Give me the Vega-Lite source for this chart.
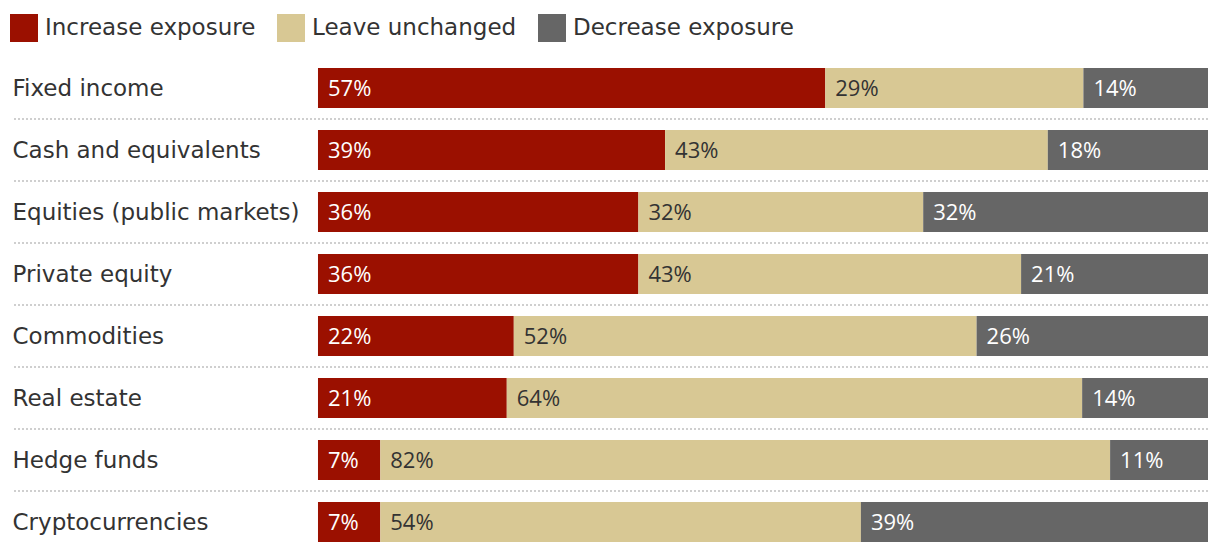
{
  "$schema": "https://vega.github.io/schema/vega-lite/v6.json",
  "width": 1196,
  "height": 496,
  "autosize": "none",
  "padding": {"left": 12, "top": 57, "right": 12, "bottom": 1},
  "config": {"view": {"stroke": null}, "font": "Open Sans"},
  "data": {"values": [
    {"category": "Fixed income", "response": "Increase exposure", "order": 1, "share": 0.57},
    {"category": "Fixed income", "response": "Leave unchanged", "order": 2, "share": 0.29},
    {"category": "Fixed income", "response": "Decrease exposure", "order": 3, "share": 0.14},
    {"category": "Cash and equivalents", "response": "Increase exposure", "order": 1, "share": 0.39},
    {"category": "Cash and equivalents", "response": "Leave unchanged", "order": 2, "share": 0.43},
    {"category": "Cash and equivalents", "response": "Decrease exposure", "order": 3, "share": 0.18},
    {"category": "Equities (public markets)", "response": "Increase exposure", "order": 1, "share": 0.36},
    {"category": "Equities (public markets)", "response": "Leave unchanged", "order": 2, "share": 0.32},
    {"category": "Equities (public markets)", "response": "Decrease exposure", "order": 3, "share": 0.32},
    {"category": "Private equity", "response": "Increase exposure", "order": 1, "share": 0.36},
    {"category": "Private equity", "response": "Leave unchanged", "order": 2, "share": 0.43},
    {"category": "Private equity", "response": "Decrease exposure", "order": 3, "share": 0.21},
    {"category": "Commodities", "response": "Increase exposure", "order": 1, "share": 0.22},
    {"category": "Commodities", "response": "Leave unchanged", "order": 2, "share": 0.52},
    {"category": "Commodities", "response": "Decrease exposure", "order": 3, "share": 0.26},
    {"category": "Real estate", "response": "Increase exposure", "order": 1, "share": 0.21},
    {"category": "Real estate", "response": "Leave unchanged", "order": 2, "share": 0.64},
    {"category": "Real estate", "response": "Decrease exposure", "order": 3, "share": 0.14},
    {"category": "Hedge funds", "response": "Increase exposure", "order": 1, "share": 0.07},
    {"category": "Hedge funds", "response": "Leave unchanged", "order": 2, "share": 0.82},
    {"category": "Hedge funds", "response": "Decrease exposure", "order": 3, "share": 0.11},
    {"category": "Cryptocurrencies", "response": "Increase exposure", "order": 1, "share": 0.07},
    {"category": "Cryptocurrencies", "response": "Leave unchanged", "order": 2, "share": 0.54},
    {"category": "Cryptocurrencies", "response": "Decrease exposure", "order": 3, "share": 0.39}
  ]},
  "transform": [
    {"stack": "share", "groupby": ["category"], "offset": "normalize", "sort": [{"field": "order"}], "as": ["s0", "s1"]}
  ],
  "encoding": {
    "y": {
      "field": "category", "type": "nominal",
      "sort": ["Fixed income", "Cash and equivalents", "Equities (public markets)", "Private equity", "Commodities", "Real estate", "Hedge funds", "Cryptocurrencies"],
      "scale": {"paddingInner": 0, "paddingOuter": 0},
      "axis": {"title": null, "domain": false, "ticks": false, "grid": false, "labelAlign": "left", "labelPadding": 0, "labelFontSize": 23, "labelColor": "#333333", "labelLimit": 400, "labelFont": "DejaVu Sans", "labelOffset": 1}
    }
  },
  "layer": [
    {
      "transform": [{"filter": "datum.order == 1 && datum.category != 'Cryptocurrencies'"}],
      "mark": {"type": "rule", "strokeDash": [2, 2], "color": "#cfcfcf", "strokeWidth": 2},
      "encoding": {
        "y": {"field": "category", "type": "nominal", "bandPosition": 1,
          "sort": ["Fixed income", "Cash and equivalents", "Equities (public markets)", "Private equity", "Commodities", "Real estate", "Hedge funds", "Cryptocurrencies"]}
      }
    },
    {
      "mark": {"type": "bar", "height": {"band": 0.645}},
      "encoding": {
        "x": {"field": "s0", "type": "quantitative", "scale": {"domain": [-0.3438, 1], "nice": false, "zero": false}, "axis": null},
        "x2": {"field": "s1"},
        "color": {
          "field": "response", "type": "nominal",
          "scale": {"domain": ["Increase exposure", "Leave unchanged", "Decrease exposure"], "range": ["#9b1000", "#d8c894", "#666666"]},
          "legend": {"orient": "none", "legendX": -2, "legendY": -43, "direction": "horizontal", "title": null, "symbolType": "square", "symbolSize": 784, "symbolStrokeWidth": 0, "symbolOpacity": 1, "labelFontSize": 23, "labelColor": "#333333", "labelOffset": 7, "columnPadding": 21, "labelLimit": 300, "labelFont": "DejaVu Sans"}
        }
      }
    },
    {
      "mark": {"type": "text", "align": "left", "baseline": "middle", "dx": 10, "dy": 1, "fontSize": 22, "font": "Open Sans"},
      "encoding": {
        "x": {"field": "s0", "type": "quantitative"},
        "text": {"field": "share", "type": "quantitative", "format": ".0%"},
        "color": {"condition": {"test": "datum.response == 'Leave unchanged'", "value": "#333333"}, "value": "#ffffff"}
      }
    }
  ]
}
